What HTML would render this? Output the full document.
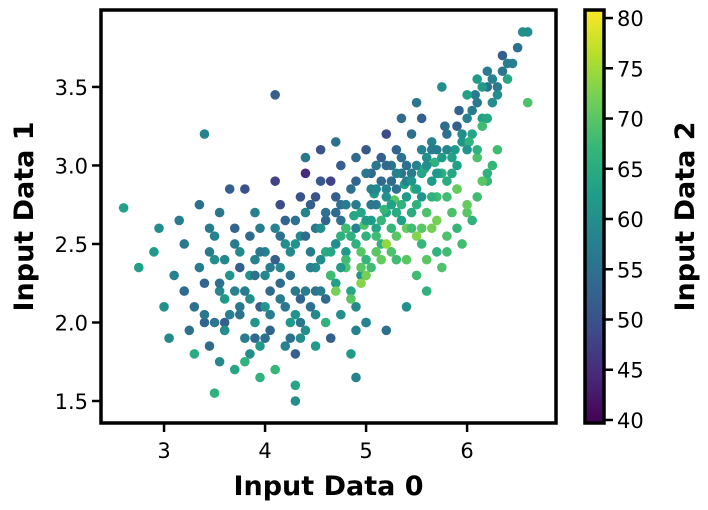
<!DOCTYPE html>
<html><head><meta charset="utf-8"><style>
html,body{margin:0;padding:0;background:#fff;}
svg{display:block;font-family:"DejaVu Sans","Liberation Sans",sans-serif;}
</style></head><body>
<svg id="chart" width="708" height="510"></svg>
<script>
const xs=[3.1,3.3,3.5,3.6,3.8,3.9,4.0,4.2,4.3,4.5,
3.2,3.4,3.55,3.7,3.85,3.95,4.1,4.25,4.4,4.6,
3.0,3.35,3.45,3.65,3.75,3.9,4.05,4.15,4.35,4.55,
3.25,3.5,3.6,3.8,3.95,4.05,4.2,4.3,4.5,4.7,
3.15,3.4,3.7,3.9,4.0,4.15,4.3,4.45,4.6,4.8,
2.9,3.3,3.55,3.75,3.85,4.1,4.25,4.4,4.65,4.75,
3.2,3.45,3.6,3.8,4.0,4.2,4.35,4.5,4.7,4.85,
3.05,3.5,3.65,3.9,4.1,4.3,4.45,4.55,4.8,4.9,
2.75,3.35,3.7,3.95,4.15,4.35,4.5,4.65,4.85,4.95,
3.4,3.6,3.85,4.05,4.25,4.4,4.6,4.75,4.9,5.0,
4.6,4.7,4.8,4.9,5.0,5.1,5.2,5.3,5.4,5.5,
4.65,4.75,4.85,4.95,5.05,5.15,5.25,5.35,5.45,5.55,
4.7,4.8,4.9,5.0,5.1,5.2,5.3,5.4,5.5,5.6,
4.55,4.85,4.95,5.05,5.15,5.25,5.35,5.45,5.55,5.65,
5.6,5.7,5.75,5.8,5.85,5.9,5.95,6.0,6.05,6.1,
5.65,5.72,5.78,5.88,5.92,6.02,6.08,6.15,6.2,6.25,
6.1,6.15,6.2,6.3,6.35,6.4,6.45,6.5,6.55,6.0,
4.5,4.65,4.75,4.9,5.0,5.1,5.2,5.3,5.45,5.55,
4.4,4.55,4.7,4.85,4.95,5.05,5.15,5.25,5.35,5.5,
5.0,5.1,5.2,5.3,5.4,5.5,5.6,5.7,5.8,5.9,
4.75,4.88,4.98,5.08,5.18,5.28,5.38,5.48,5.58,5.68,
5.0,5.2,5.4,5.6,5.8,6.0,6.2,6.3,6.6,5.75,
5.5,5.6,5.7,5.8,5.9,6.0,6.1,6.2,5.65,5.85,
5.4,5.55,5.75,5.95,6.05,6.15,6.25,5.7,5.9,6.1,
2.6,2.95,3.4,4.1,4.3,4.4,3.5,6.6,4.7,4.9,
3.55,3.65,3.75,3.85,3.95,4.05,4.15,4.25,4.35,4.45,
3.6,3.7,3.8,3.9,4.0,4.1,4.2,4.3,4.4,4.5,
3.45,3.55,3.75,3.95,4.15,4.35,4.55,4.65,4.75,4.85,
4.9,5.0,5.1,5.2,5.3,5.4,5.5,5.6,5.7,5.8,
4.8,4.95,5.05,5.15,5.25,5.35,5.45,5.55,5.65,5.75,
5.05,5.15,5.25,5.35,5.45,5.55,5.65,5.8,5.9,6.0,
4.6,4.7,4.8,4.9,5.0,5.1,5.2,5.3,4.3,4.45,
5.95,6.05,6.15,6.25,6.35,6.2,6.1,6.3,6.4,5.85];
const ys=[2.3,2.1,2.4,2.0,2.2,1.9,2.3,2.1,2.5,2.2,
2.5,2.0,2.2,2.5,1.8,2.1,2.6,1.9,2.2,2.0,
2.1,2.35,1.85,2.3,2.05,2.4,1.95,2.35,2.0,2.4,
1.95,2.55,2.15,1.75,2.6,2.2,2.5,1.8,2.6,2.25,
2.65,2.25,1.7,2.7,1.9,2.75,2.05,2.45,2.15,2.45,
2.45,1.8,2.7,2.45,2.3,1.7,2.3,2.7,1.9,2.05,
2.2,2.6,1.95,2.85,2.45,2.65,2.55,1.85,2.5,2.2,
1.9,2.0,2.85,2.0,2.9,1.6,2.1,2.9,2.6,1.95,
2.35,2.75,2.2,1.65,2.15,2.8,2.35,2.3,1.8,2.3,
2.05,2.4,2.55,2.35,2.0,1.95,2.65,2.75,2.1,2.0,
2.45,2.5,2.4,2.6,2.55,2.75,2.7,2.85,2.8,3.0,
2.3,2.65,2.55,2.45,2.75,2.5,2.9,2.65,2.95,2.8,
2.7,2.35,2.75,2.4,2.6,2.85,2.55,3.0,2.75,3.05,
2.6,2.85,2.35,2.65,2.9,2.6,2.95,2.7,3.1,2.9,
3.0,3.1,2.95,3.2,3.05,3.25,3.15,3.3,3.2,3.4,
3.15,2.95,3.25,3.1,3.35,3.15,3.45,3.3,3.5,3.4,
3.55,3.25,3.6,3.5,3.7,3.55,3.65,3.75,3.85,3.45,
2.8,2.9,3.0,3.05,3.1,3.0,3.2,3.1,3.2,3.3,
2.95,3.1,2.2,2.15,2.25,2.35,2.4,2.45,3.3,3.4,
2.3,2.45,2.5,2.4,2.6,2.55,2.7,2.65,2.8,2.85,
2.55,2.68,2.62,2.82,2.72,2.78,2.88,2.85,2.98,3.02,
2.0,1.95,2.1,2.2,2.45,2.7,2.9,3.1,3.4,3.5,
2.3,2.4,2.45,2.55,2.6,2.75,2.8,2.95,2.6,2.7,
2.4,2.5,2.35,2.5,2.65,2.9,3.0,2.8,2.85,3.05,
2.73,2.6,3.2,3.45,1.5,3.05,1.55,3.85,3.15,1.65,
2.25,2.05,2.35,2.15,2.45,2.05,2.25,2.45,2.15,2.35,
1.95,2.6,1.9,2.3,2.1,2.4,1.85,2.2,2.55,2.05,
2.45,1.75,2.1,1.85,2.55,1.9,2.2,2.45,2.35,2.55,
2.5,2.65,2.55,2.8,2.7,2.9,2.85,3.0,2.95,3.1,
2.6,2.7,2.85,2.65,2.75,3.05,2.9,2.95,3.1,3.05,
2.95,3.05,3.0,2.75,2.6,2.6,2.8,2.9,3.0,3.1,
2.7,2.8,2.75,2.9,2.95,2.85,3.0,2.95,2.65,2.75,
3.2,3.35,3.5,3.55,3.6,3.3,3.1,3.45,3.65,2.95];
const cs=[58,55,60,52,57,54,59,56,61,55,
56,53,59,57,60,52,58,55,57,66,
60,57,54,61,55,58,53,59,56,60,
55,58,62,66,57,54,60,52,56,63,
57,53,64,58,55,49,61,57,54,62,
62,65,56,59,61,67,55,58,52,60,
54,57,60,50,58,53,59,62,57,64,
59,56,52,61,48,64,55,51,60,58,
63,55,58,66,57,50,60,56,62,61,
56,59,54,57,62,60,53,55,59,61,
65,60,68,58,66,57,64,55,62,58,
68,55,62,70,56,66,54,63,57,61,
54,69,57,67,64,58,70,55,66,60,
60,55,70,62,54,67,56,65,58,62,
60,57,66,55,63,52,61,58,64,56,
58,65,54,62,53,66,57,63,55,60,
62,68,57,56,52,64,58,55,60,63,
50,48,52,54,51,56,49,53,55,52,
45,50,72,70,73,68,71,69,54,56,
72,70,74,68,71,73,69,72,68,70,
66,64,69,62,67,70,63,68,65,66,
58,55,60,66,68,70,67,68,69,60,
68,70,66,69,67,71,68,66,72,69,
70,67,69,68,66,70,67,68,71,69,
63,60,58,52,60,56,66,60,55,58,
55,58,52,60,56,57,54,59,53,58,
60,53,57,55,61,52,58,56,54,59,
57,59,56,62,55,60,57,64,62,66,
66,62,68,60,65,58,63,60,62,59,
68,64,58,67,63,55,61,64,57,62,
54,52,56,66,68,70,66,65,63,61,
55,52,57,53,56,59,54,58,55,52,
60,57,62,58,56,64,66,60,57,64];
const xTicks=[3,4,5,6];
const yTicks=[1.5,2.0,2.5,3.0,3.5];
const cTicks=[40,45,50,55,60,65,70,75,80];

const NS="http://www.w3.org/2000/svg";
const svg=document.getElementById('chart');
const L=101,R=556,T=10,B=423;
const xMin=2.376,xMax=6.88,yMin=1.36,yMax=3.99,cMin=39.7,cMax=80.8;
const sx=v=>L+(v-xMin)/(xMax-xMin)*(R-L);
const sy=v=>B-(v-yMin)/(yMax-yMin)*(B-T);
const CL=585,CR=604;
const sc=v=>B-(v-cMin)/(cMax-cMin)*(B-T);
const stops=[[68,1,84],[72,40,120],[62,74,137],[49,104,142],[38,130,142],[31,158,137],[53,183,121],[110,206,88],[181,222,43],[253,231,37]];
function viridis(t){t=Math.max(0,Math.min(1,t));const p=t*(stops.length-1),i=Math.min(Math.floor(p),stops.length-2),f=p-i;
const a=stops[i],b=stops[i+1];return `rgb(${Math.round(a[0]+(b[0]-a[0])*f)},${Math.round(a[1]+(b[1]-a[1])*f)},${Math.round(a[2]+(b[2]-a[2])*f)})`;}
function mk(tag,attrs,parent){const e=document.createElementNS(NS,tag);for(const k in attrs)e.setAttribute(k,attrs[k]);(parent||svg).appendChild(e);return e;}

const pts=mk('g',{});


for(let i=0;i<xs.length;i++){
  const c=mk('circle',{cx:sx(xs[i]),cy:sy(ys[i]),r:4.8,fill:viridis((cs[i]-cMin)/(cMax-cMin))},pts);
  
  
}
const frame=mk('rect',{x:L,y:T,width:R-L,height:B-T,fill:'none',stroke:'#000','stroke-width':3.5});


xTicks.forEach(v=>{
  mk('line',{x1:sx(v),x2:sx(v),y1:B,y2:B+9,stroke:'#000','stroke-width':2.5});
  const t=mk('text',{x:sx(v),y:B+35,'text-anchor':'middle','font-size':21});t.textContent=v;
  
  
});
yTicks.forEach(v=>{
  mk('line',{x1:L-9,x2:L,y1:sy(v),y2:sy(v),stroke:'#000','stroke-width':2.5});
  const t=mk('text',{x:L-13,y:sy(v)+8,'text-anchor':'end','font-size':21});t.textContent=v.toFixed(1);
  
  
});
const xt=mk('text',{x:(L+R)/2,y:495,'text-anchor':'middle','font-size':27,'font-weight':'bold'});xt.textContent='Input Data 0';


const yt=mk('text',{x:0,y:0,'text-anchor':'middle','font-size':27,'font-weight':'bold',transform:`translate(33,${(T+B)/2}) rotate(-90)`});yt.textContent='Input Data 1';


const defs=mk('defs',{});
const g=mk('linearGradient',{id:'vg',x1:0,y1:1,x2:0,y2:0},defs);
stops.forEach((s,i)=>mk('stop',{offset:i/(stops.length-1),'stop-color':`rgb(${s})`},g));
const cb=mk('rect',{x:CL,y:T,width:CR-CL,height:B-T,fill:'url(#vg)',stroke:'#000','stroke-width':3.5});


cTicks.forEach(v=>{
  mk('line',{x1:CR,x2:CR+9,y1:sc(v),y2:sc(v),stroke:'#000','stroke-width':2.5});
  const t=mk('text',{x:CR+13,y:sc(v)+8,'font-size':21});t.textContent=v;
  
  
});
const ct=mk('text',{x:0,y:0,'text-anchor':'middle','font-size':27,'font-weight':'bold',transform:`translate(694,${(T+B)/2}) rotate(-90)`});ct.textContent='Input Data 2';


</script>
</body></html>
